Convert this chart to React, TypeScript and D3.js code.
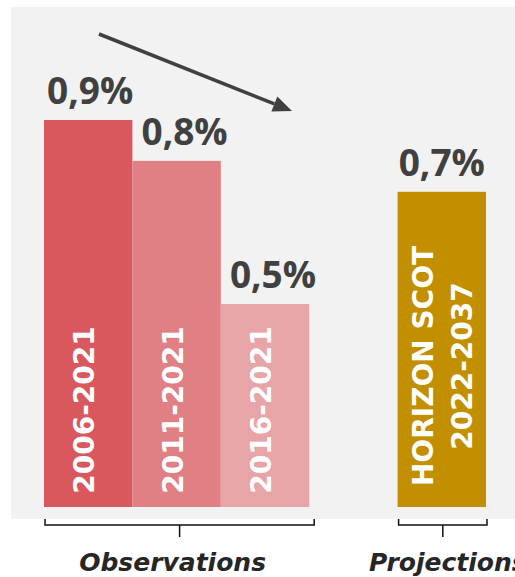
import React from "react";
import * as d3 from "d3";

const slots = ["obs1", "obs2", "obs3", "gap", "proj"];
const barSlots = ["obs1", "obs2", "obs3", "proj"];
const periodLines = [["2006-2021"], ["2011-2021"], ["2016-2021"], ["HORIZON SCOT", "2022-2037"]];
const rates = [0.9, 0.805, 0.472, 0.733];
const rateLabels = ["0,9%", "0,8%", "0,5%", "0,7%"];
const barColors = ["#d9585e", "#e07f84", "#e7a5a8", "#c18f00"];
const groupNames = ["Observations", "Projections"];
const groupFirst = ["obs1", "proj"];
const groupLast = ["obs3", "proj"];

const W = 515;
const H = 577;
const labelShift = [2, 8, 8, 0];

export default function App() {
  const x = d3.scaleBand<string>().domain(slots).range([44, 486]).padding(0);
  const y = d3.scaleLinear().domain([0, 0.9]).range([507, 120]);
  const bw = x.bandwidth();
  const fontLabel = "'Open Sans', sans-serif";
  const fontIn = "'DejaVu Sans', sans-serif";

  // arrow
  const ax1 = 99, ay1 = 34, ax2 = 292, ay2 = 111;
  const ang = Math.atan2(ay2 - ay1, ax2 - ax1);
  const hl = 19, hw = 8;
  const bx = ax2 - hl * Math.cos(ang), by = ay2 - hl * Math.sin(ang);
  const px = -Math.sin(ang), py = Math.cos(ang);
  const head = `M${ax2},${ay2}L${bx + hw * px},${by + hw * py}L${bx - hw * px},${by - hw * py}Z`;

  return (
    <svg width={W} height={H} style={{ position: "absolute", left: 0, top: 0 }}>
      <rect x={11} y={7} width={W - 11} height={512} fill="#f2f2f2" />
      {barSlots.map((s, i) => {
        const x0 = x(s)!;
        const cx = x0 + bw / 2;
        const lines = periodLines[i];
        const n = lines.length;
        const midY = n === 1 ? 410 : 366;
        const base = cx + (n === 1 ? 6 : 11);
        return (
          <g key={s}>
            <rect x={x0} y={y(rates[i])} width={bw} height={y(0) - y(rates[i])} fill={barColors[i]} />
            <text
              x={cx + labelShift[i]}
              y={y(rates[i]) - 16}
              textAnchor="middle"
              fontFamily={fontLabel}
              fontWeight={700}
              fontSize={37}
              fill="#404040"
            >
              {rateLabels[i]}
            </text>
            {lines.map((t, j) => (
              <text
                key={j}
                transform={`translate(${base + (j - (n - 1) / 2) * 39},${midY}) rotate(-90)`}
                textAnchor="middle"
                fontFamily={fontIn}
                fontWeight={700}
                fontSize={28}
                fill="#ffffff"
              >
                {t}
              </text>
            ))}
          </g>
        );
      })}
      {groupNames.map((g, i) => {
        const gx0 = x(groupFirst[i])! + 1;
        const gx1 = x(groupLast[i])! + bw + (i === 0 ? 5 : 1);
        const gc = (gx0 + gx1) / 2;
        return (
          <g key={g}>
            <path
              d={`M${gx0},519V525H${gx1}V519M${gc},525V537`}
              fill="none"
              stroke="#111"
              strokeWidth={1.5}
            />
            <text
              x={gc + (i === 0 ? -7 : 5)}
              y={571}
              textAnchor="middle"
              fontFamily={fontIn}
              fontWeight={700}
              fontStyle="italic"
              fontSize={25}
              fill="#262626"
            >
              {g}
            </text>
          </g>
        );
      })}
      <line x1={ax1} y1={ay1} x2={bx} y2={by} stroke="#404040" strokeWidth={3.5} />
      <path d={head} fill="#404040" />
    </svg>
  );
}
